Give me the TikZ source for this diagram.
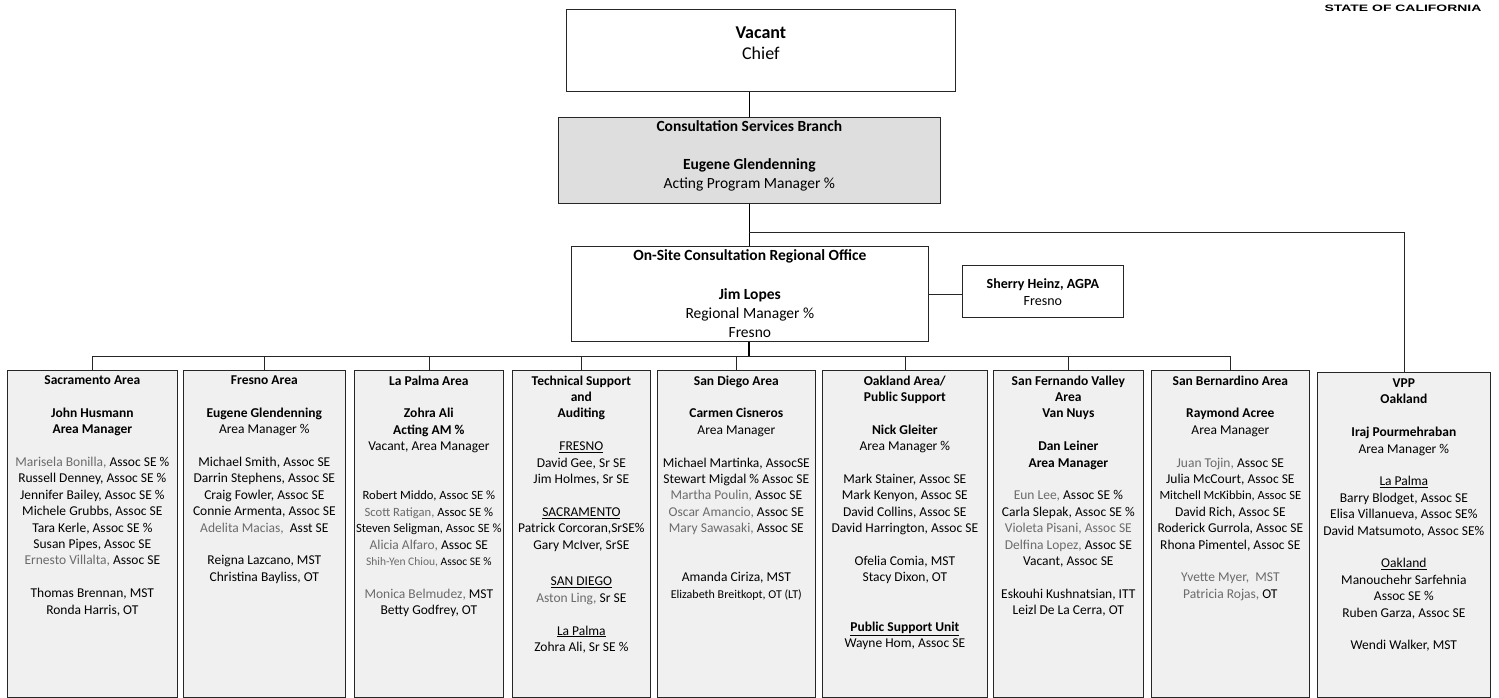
\documentclass[tikz,border=0pt]{standalone}
\usepackage{fontspec}
\setmainfont{Carlito}
\newfontfamily\statefont[FakeStretch=1.5]{Liberation Sans}
\definecolor{lite}{gray}{0.42}
\newcommand\lt[1]{\textcolor{lite}{#1}}
\newcommand\smr[1]{{\fontsize{12.6}{16.4}\selectfont #1}}
\def\BL{16.4pt}
\tikzset{
  box/.style={draw=black!85, line width=0.7pt, inner sep=0pt, anchor=north west},
  colbox/.style={box, fill=black!6, minimum height=327pt},
  link/.style={draw=black!85, line width=0.7pt},
  heavylink/.style={draw=black, line width=1.4pt},
  coltext/.style={anchor=north, align=center, inner sep=0pt, font=\fontsize{13.5}{16.4}\selectfont},
  toptext/.style={anchor=north, align=center, inner sep=0pt, font=\fontsize{15.5}{19.2}\selectfont},
}
\begin{document}
\begin{tikzpicture}[x=1pt,y=-1pt]
\useasboundingbox (0,0) rectangle (1499,698);
\fill[white] (0,0) rectangle (1499,698);

% header mark
\node[anchor=center, inner sep=0pt, font=\statefont\bfseries\fontsize{9.3}{10}\selectfont] (state) at (1403,8) {STATE OF CALIFORNIA};

% top boxes
\node[box, minimum width=389pt, minimum height=82pt] (chief) at (566,9) {};
\node[align=center, inner sep=0pt, font=\fontsize{18}{21}\selectfont] (chiefT) at ([yshift=7pt]chief.center) {\textbf{Vacant}\\Chief};

\node[box, fill=black!13, minimum width=382pt, minimum height=86pt] (consult) at (558,117) {};
\node[toptext] (consultT) at ([yshift=-3pt]consult.north) {\textbf{Consultation Services Branch}\\[19.2pt]\textbf{Eugene Glendenning}\\Acting Program Manager \%};

\node[box, minimum width=357pt, minimum height=95pt] (onsite) at (571,246) {};
\node[toptext] (onsiteT) at ([yshift=-3.5pt]onsite.north) {\textbf{On-Site Consultation Regional Office}\\[19.2pt]\textbf{Jim Lopes}\\Regional Manager \%\\Fresno};

\node[box, minimum width=161pt, minimum height=52pt] (sherry) at (962,265) {};
\node[align=center, inner sep=0pt, font=\fontsize{14}{17}\selectfont] (sherryT) at ([yshift=-1pt]sherry.center) {\textbf{Sherry Heinz, AGPA}\\Fresno};

% column boxes
\node[colbox, minimum width=170pt] (sac) at (7,370) {};
\node[colbox, minimum width=162pt] (fre) at (183,370) {};
\node[colbox, minimum width=149pt] (lap) at (354,370) {};
\node[colbox, minimum width=138pt] (tech) at (512,370) {};
\node[colbox, minimum width=158pt] (sd) at (657,370) {};
\node[colbox, minimum width=165pt] (oak) at (822,370) {};
\node[colbox, minimum width=150pt] (sfv) at (993,370) {};
\node[colbox, minimum width=158pt] (sbd) at (1151,370) {};
\node[colbox, minimum width=173pt, minimum height=325pt] (vpp) at (1317,372) {};

% column texts
\node[coltext] (sacT) at ([yshift=-5.5pt]sac.north) {\textbf{Sacramento Area}\\[\BL]
\textbf{John Husmann}\\
\textbf{Area Manager}\\[\BL]
\lt{Marisela Bonilla,} Assoc SE \%\\
Russell Denney, Assoc SE \%\\
Jennifer Bailey, Assoc SE \%\\
Michele Grubbs, Assoc SE\\
Tara Kerle, Assoc SE \%\\
Susan Pipes, Assoc SE\\
\lt{Ernesto Villalta,} Assoc SE\\[\BL]
Thomas Brennan, MST\\
Ronda Harris, OT};

\node[coltext] (freT) at ([yshift=-5.5pt]fre.north) {\textbf{Fresno Area}\\[\BL]
\textbf{Eugene Glendenning}\\
Area Manager \%\\[\BL]
Michael Smith, Assoc SE\\
Darrin Stephens, Assoc SE\\
Craig Fowler, Assoc SE\\
Connie Armenta, Assoc SE\\
\lt{Adelita Macias,} \ Asst SE\\[\BL]
Reigna Lazcano, MST\\
Christina Bayliss, OT};

\node[coltext] (lapT) at ([yshift=-5.5pt]lap.north) {\textbf{La Palma Area}\\[\BL]
\textbf{Zohra Ali}\\
\textbf{Acting AM \%}\\
Vacant, Area Manager\\[32.8pt]
\smr{Robert Middo, Assoc SE \%}\\
\smr{\lt{Scott Ratigan,} Assoc SE \%}\\
\smr{Steven Seligman, Assoc SE \%}\\
\lt{Alicia Alfaro,} Assoc SE\\
{\fontsize{11.5}{16.4}\selectfont\lt{Shih-Yen Chiou,} Assoc SE \%}\\[\BL]
\lt{Monica Belmudez,} MST\\
Betty Godfrey, OT};

\node[coltext] (techT) at ([yshift=-5.5pt]tech.north) {\textbf{Technical Support}\\
\textbf{and}\\
\textbf{Auditing}\\[\BL]
\underline{FRESNO}\\
David Gee, Sr SE\\
Jim Holmes, Sr SE\\[\BL]
\underline{SACRAMENTO}\\
Patrick Corcoran,SrSE\%\\
Gary McIver, SrSE\\[20.4pt]
\underline{SAN DIEGO}\\
\lt{Aston Ling,} Sr SE\\[\BL]
\underline{La Palma}\\
Zohra Ali, Sr SE \%};

\node[coltext] (sdT) at ([yshift=-5.5pt]sd.north) {\textbf{San Diego Area}\\[\BL]
\textbf{Carmen Cisneros}\\
Area Manager\\[\BL]
Michael Martinka, AssocSE\\
Stewart Migdal \% Assoc SE\\
\lt{Martha Poulin,} Assoc SE\\
\lt{Oscar Amancio,} Assoc SE\\
\lt{Mary Sawasaki,} Assoc SE\\[32.8pt]
Amanda Ciriza, MST\\
{\fontsize{12}{16.4}\selectfont Elizabeth Breitkopt, OT (LT)}};

\node[coltext] (oakT) at ([yshift=-5.5pt]oak.north) {\textbf{Oakland Area/}\\
\textbf{Public Support}\\[\BL]
\textbf{Nick Gleiter}\\
Area Manager \%\\[\BL]
Mark Stainer, Assoc SE\\
Mark Kenyon, Assoc SE\\
David Collins, Assoc SE\\
David Harrington, Assoc SE\\[\BL]
Ofelia Comia, MST\\
Stacy Dixon, OT\\[32.8pt]
\underline{\textbf{Public Support Unit}}\\
Wayne Hom, Assoc SE};

\node[coltext] (sfvT) at ([yshift=-5.5pt]sfv.north) {\textbf{San Fernando Valley}\\
\textbf{Area}\\
\textbf{Van Nuys}\\[\BL]
\textbf{Dan Leiner}\\
\textbf{Area Manager}\\[\BL]
\lt{Eun Lee,} Assoc SE \%\\
Carla Slepak, Assoc SE \%\\
\lt{Violeta Pisani, Assoc SE}\\
\lt{Delfina Lopez,} Assoc SE\\
Vacant, Assoc SE\\[\BL]
Eskouhi Kushnatsian, ITT\\
Leizl De La Cerra, OT};

\node[coltext] (sbdT) at ([yshift=-5.5pt]sbd.north) {\textbf{San Bernardino Area}\\[\BL]
\textbf{Raymond Acree}\\
Area Manager\\[\BL]
\lt{Juan Tojin,} Assoc SE\\
Julia McCourt, Assoc SE\\
{\fontsize{12.5}{16.4}\selectfont Mitchell McKibbin, Assoc SE}\\
David Rich, Assoc SE\\
Roderick Gurrola, Assoc SE\\
Rhona Pimentel, Assoc SE\\[\BL]
\lt{Yvette Myer, \ MST}\\
\lt{Patricia Rojas,} OT};

\node[coltext] (vppT) at ([yshift=-6.5pt]vpp.north) {\textbf{VPP}\\
\textbf{Oakland}\\[\BL]
\textbf{Iraj Pourmehraban}\\
Area Manager \%\\[\BL]
\underline{La Palma}\\
Barry Blodget, Assoc SE\\
Elisa Villanueva, Assoc SE\%\\
David Matsumoto, Assoc SE\%\\[\BL]
\underline{Oakland}\\
Manouchehr Sarfehnia\\
Assoc SE \%\\
Ruben Garza, Assoc SE\\[\BL]
Wendi Walker, MST};

% connectors
\coordinate (vj) at (749,232);
\coordinate (bus) at (749,356);
\draw[heavylink] (consult.north) -- (consult.north |- chief.south);
\draw[heavylink] (consult.south) -- (consult.south |- onsite.north);
\draw[link] (vj) -| (vpp.north);
\draw[link] (onsite.east) -- (onsite.east -| sherry.west);
\draw[heavylink] (onsite.south -| bus) -- (bus);
\draw[link] (sac.north |- bus) -- (sbd.north |- bus);
\foreach \c in {sac,fre,lap,tech,sd,oak,sfv,sbd}{
  \draw[link] (\c.north) -- (\c.north |- bus);
}
\end{tikzpicture}
\end{document}
